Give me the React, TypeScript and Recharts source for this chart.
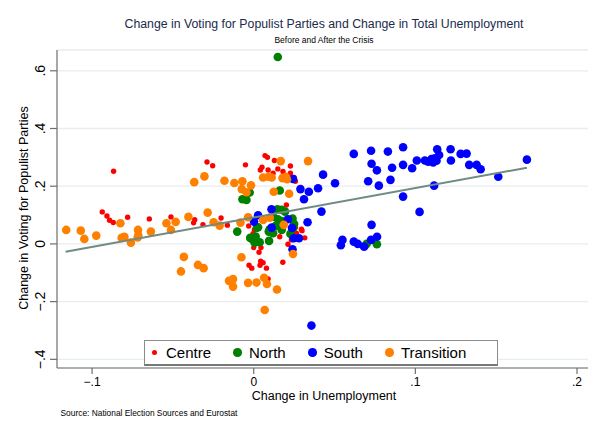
import React from 'react';
import { ScatterChart, Scatter, XAxis, YAxis, CartesianGrid, Legend } from 'recharts';

const centre: [number, number][] = [
  [-0.0867, 0.252], [-0.0937, 0.111], [-0.0908, 0.097], [-0.0892, 0.082], [-0.0869, 0.074],
  [-0.078, 0.0925], [-0.0646, 0.0867], [-0.0512, 0.0936], [-0.0365, 0.084], [-0.0372, 0.073],
  [-0.0314, 0.067], [-0.0289, 0.284], [-0.0254, 0.271], [-0.0051, 0.274], [0.007, 0.306],
  [0.0085, 0.3], [0.0128, 0.289], [0.0041, 0.256], [0.0051, 0.266], [0.0089, 0.256],
  [0.012, 0.245], [0.0149, 0.26], [0.0181, 0.251], [0.0227, 0.27], [0.0227, 0.245],
  [0.025, 0.23], [0.0258, 0.217], [0.0202, 0.135], [-0.0202, 0.09], [-0.0163, 0.065],
  [-0.0031, 0.062], [0.0004, 0.0485], [-0.0004, 0.0357], [0.0258, 0.058], [0.0295, 0.051],
  [0.0264, 0.037], [0.0161, 0.025], [0.0316, 0.021], [0.0, -0.0128], [0.0045, -0.0128],
  [0.0212, -0.001], [0.0033, -0.029], [0.0233, 0.014], [-0.0029, -0.074], [-0.0012, -0.084],
  [0.0043, -0.06], [0.0058, -0.065], [0.0039, -0.074], [0.0079, -0.084], [0.018, -0.0634],
  [0.0089, -0.121], [0.0299, 0.046],
];

const north: [number, number][] = [
  [0.0149, 0.648], [-0.0025, 0.178], [-0.007, 0.155], [-0.0045, 0.1525], [0.0161, 0.185],
  [0.0147, 0.12], [0.0172, 0.118], [0.0194, 0.112], [0.0027, 0.058], [0.012, 0.0946],
  [0.015, 0.0856], [0.0178, 0.0787], [0.024, 0.0877], [0.025, 0.0693], [0.0136, 0.0624],
  [0.0173, 0.0485], [0.0099, 0.051], [0.012, 0.037], [-0.0102, 0.0426], [0.002, 0.0565],
  [0.0093, 0.0426], [0.0012, 0.0253], [-0.0022, 0.0208], [-0.0004, 0.0139], [0.0017, 0.008],
  [0.0037, 0.006], [0.0095, 0.0104], [0.0227, 0.0347], [0.0243, 0.0544], [0.0006, 0.0045],
  [0.0698, 0.0], [0.0762, -0.001],
];

const south: [number, number][] = [
  [0.0429, 0.24], [0.0503, 0.21], [0.0243, 0.225], [0.0289, 0.19], [0.0341, 0.181],
  [0.0398, 0.193], [0.0311, 0.155], [0.0419, 0.112], [0.011, 0.12], [0.0027, 0.0995],
  [0.0002, 0.0773], [0.0111, 0.0565], [0.0212, 0.0856], [0.0237, 0.0555], [0.0333, 0.0752],
  [0.0248, 0.0198], [0.028, 0.0198], [0.024, -0.0184], [0.0357, -0.283],
  [0.0619, 0.312], [0.0726, 0.323], [0.083, 0.32], [0.0924, 0.335], [0.0729, 0.278],
  [0.0762, 0.255], [0.0856, 0.264], [0.0924, 0.274], [0.098, 0.262], [0.1009, 0.289],
  [0.1059, 0.289], [0.1079, 0.285], [0.11, 0.294], [0.111, 0.282], [0.112, 0.297],
  [0.1135, 0.328], [0.1147, 0.308], [0.1131, 0.288], [0.1218, 0.328], [0.122, 0.289],
  [0.128, 0.312], [0.1317, 0.313], [0.1333, 0.274], [0.1379, 0.274], [0.1404, 0.259],
  [0.1513, 0.233], [0.169, 0.292], [0.0708, 0.217], [0.0774, 0.202], [0.0846, 0.222],
  [0.1116, 0.202], [0.0924, 0.164], [0.1026, 0.111], [0.0729, 0.066], [0.0549, 0.014],
  [0.0539, -0.0045], [0.0619, 0.008], [0.0644, 0.0], [0.0683, -0.0094], [0.0726, 0.014],
  [0.0763, 0.025],
];

const transition: [number, number][] = [
  [-0.116, 0.0485], [-0.107, 0.046], [-0.1048, 0.0173], [-0.0974, 0.0288], [-0.0825, 0.0718],
  [-0.0817, 0.0208], [-0.08, 0.0243], [-0.076, 0.0045], [-0.0716, 0.0485], [-0.0714, 0.03],
  [-0.0718, 0.022], [-0.0636, 0.0426], [-0.054, 0.0718], [-0.0512, 0.0485], [-0.0483, 0.0763],
  [-0.0404, 0.0936], [-0.0368, 0.214], [-0.0305, 0.234], [-0.0285, 0.1085], [-0.0432, -0.045],
  [-0.045, -0.0953], [-0.0345, -0.0728], [-0.031, -0.084], [-0.0181, 0.219], [-0.012, 0.211],
  [-0.007, 0.217], [-0.0017, 0.203], [-0.0074, 0.19], [-0.0045, 0.179], [0.0167, 0.287],
  [0.0336, 0.287], [0.0058, 0.23], [0.0091, 0.233], [0.0111, 0.23], [0.0178, 0.228],
  [0.0206, 0.224], [0.0198, 0.233], [0.0124, 0.181], [0.0219, 0.174], [-0.0248, 0.075],
  [-0.0211, 0.0634], [-0.0082, 0.0738], [-0.0035, 0.0925], [0.0058, 0.083], [0.0099, 0.091],
  [0.0186, 0.066], [-0.0076, -0.046], [0.0243, -0.0347], [-0.0153, -0.128], [-0.0128, -0.122],
  [-0.0128, -0.148], [-0.0035, -0.135], [0.0017, -0.134], [0.0064, -0.117], [0.0082, -0.139],
  [0.0144, -0.158], [0.0068, -0.229],
];

const fitLine: [number, number][] = [[-0.1164, -0.027], [0.169, 0.264]];

const xTicks = [-0.1, 0, 0.1, 0.2];
const yTicks = [-0.4, -0.2, 0, 0.2, 0.4, 0.6];

const seriesNames = ['Centre', 'North', 'South', 'Transition'];
const seriesColors = ['#ff0000', '#008000', '#0000ff', '#ff8000'];
const seriesRadius = [2.7, 4.3, 4.3, 4.3];
const seriesData = [centre, north, south, transition];

const toPts = (a: [number, number][]) => a.map(([x, y]) => ({ x, y }));

const FONT = '"Liberation Sans", Arial, Helvetica, sans-serif';

const fmt = (v: number) => {
  if (Math.abs(v) < 1e-9) return '0';
  const s = Math.abs(v).toFixed(1).replace(/^0/, '');
  return (v < 0 ? '\u2212' : '') + s;
};

const YTick = (props: any) => {
  const { x, y, payload } = props;
  const bx = x - 3;
  return (
    <text
      x={bx}
      y={y}
      transform={`rotate(-90 ${bx} ${y})`}
      textAnchor="middle"
      fontSize={14}
      fontFamily={FONT}
      fill="#000"
    >
      {fmt(payload.value)}
    </text>
  );
};

const LegendBox = () => (
  <div
    style={{
      position: 'absolute',
      left: 144,
      top: 340,
      width: 354,
      height: 26,
      boxSizing: 'border-box',
      border: '1px solid #8c8c8c',
      borderBottom: '2px solid #777',
      background: '#fff',
      display: 'flex',
      alignItems: 'center',
      paddingLeft: 5,
      fontFamily: FONT,
      fontSize: 15,
      color: '#000',
    }}
  >
    {seriesNames.map((n, i) => (
      <div key={n} style={{ display: 'flex', alignItems: 'center', marginRight: 22 }}>
        <span
          style={{
            width: 9,
            height: 9,
            display: 'flex',
            alignItems: 'center',
            justifyContent: 'center',
            marginRight: 7,
          }}
        >
          <span
            style={{
              width: seriesRadius[i] * 2,
              height: seriesRadius[i] * 2,
              borderRadius: '50%',
              background: seriesColors[i],
              display: 'block',
            }}
          />
        </span>
        <span>{n}</span>
      </div>
    ))}
  </div>
);

export default function App() {
  return (
    <div style={{ position: 'absolute', left: 0, top: 0, width: 600, height: 437, background: '#fff' }}>
      <ScatterChart
        width={600}
        height={437}
        margin={{ top: 50, right: 12, bottom: 39, left: 10 }}
        style={{ fontFamily: FONT }}
      >
        <CartesianGrid vertical={false} stroke="#e6eef0" strokeWidth={1.3} />
        <XAxis
          type="number"
          dataKey="x"
          domain={[-0.1217, 0.2068]}
          ticks={xTicks}
          tickFormatter={fmt}
          allowDataOverflow
          height={30}
          tickSize={6}
          tickMargin={3}
          stroke="#6e6e6e"
          strokeWidth={1.2}
          tick={{ fontSize: 12, fill: '#000', fontFamily: FONT }}
        />
        <YAxis
          type="number"
          dataKey="y"
          domain={[-0.43, 0.672]}
          ticks={yTicks}
          allowDataOverflow
          width={47}
          tickSize={7}
          tickMargin={2}
          stroke="#6e6e6e"
          strokeWidth={1.2}
          tick={<YTick />}
        />
        {seriesData.map((d, i) => (
          <Scatter
            key={seriesNames[i]}
            name={seriesNames[i]}
            data={toPts(d)}
            fill={seriesColors[i]}
            isAnimationActive={false}
            shape={(p: any) => <circle cx={p.cx} cy={p.cy} r={seriesRadius[i]} fill={seriesColors[i]} />}
          />
        ))}
        <Scatter
          name="Fitted values"
          data={toPts(fitLine)}
          line={{ stroke: '#6f8b84', strokeWidth: 2 }}
          isAnimationActive={false}
          legendType="none"
          shape={() => <g />}
        />
        <Legend content={() => <LegendBox />} wrapperStyle={{ position: 'absolute', left: 0, top: 0, width: 0, height: 0 }} />
      </ScatterChart>
      <svg
        width={600}
        height={437}
        style={{ position: 'absolute', left: 0, top: 0, pointerEvents: 'none' }}
        fontFamily={FONT}
      >
        <text x={324} y={27.5} textAnchor="middle" fontSize={12.3} fill="#1c2a4c">
          Change in Voting for Populist Parties and Change in Total Unemployment
        </text>
        <text x={324} y={42.5} textAnchor="middle" fontSize={8.5} fill="#000">
          Before and After the Crisis
        </text>
        <text x={324} y={400} textAnchor="middle" fontSize={12.5} fill="#000">
          Change in Unemployment
        </text>
        <text x={28} y={208} transform="rotate(-90 28 208)" textAnchor="middle" fontSize={12.5} fill="#000">
          Change in Voting for Populist Parties
        </text>
        <text x={60.5} y={415.5} fontSize={8.4} fill="#000">
          Source: National Election Sources and Eurostat
        </text>
      </svg>
    </div>
  );
}
